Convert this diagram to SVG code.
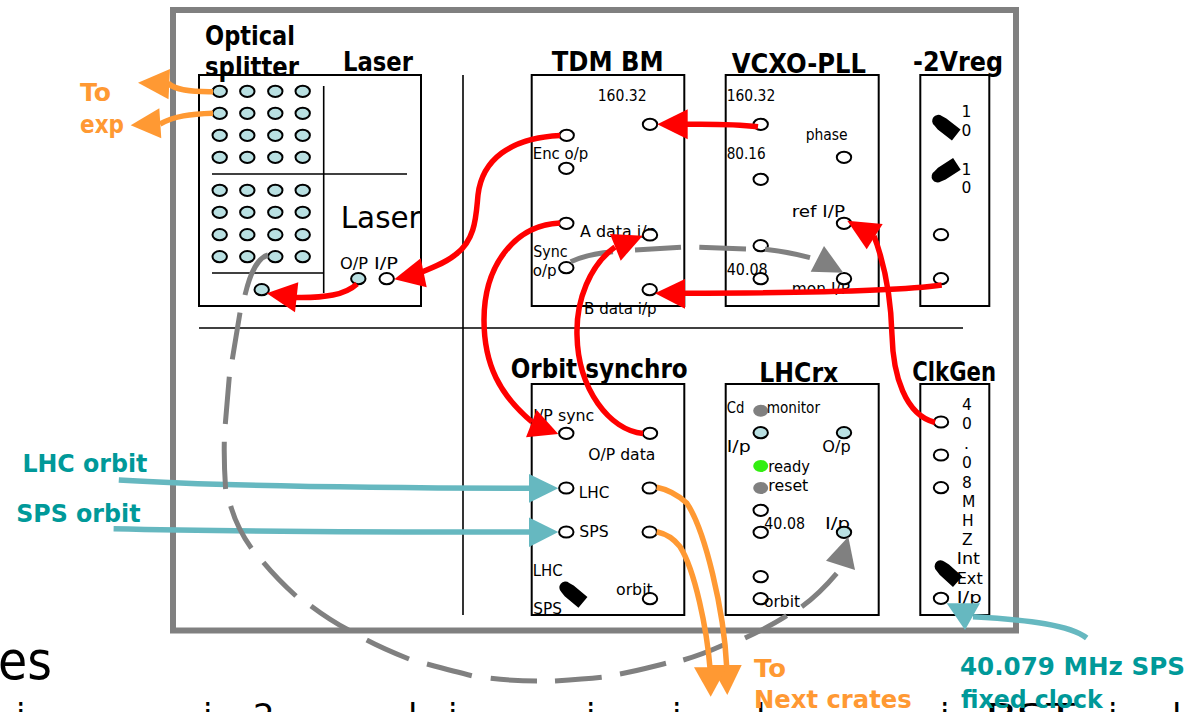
<svg xmlns="http://www.w3.org/2000/svg" width="1189" height="712" viewBox="0 0 1189 712">
<style>
text{font-family:"DejaVu Sans","Liberation Sans",sans-serif;fill:#000}
.t{font-size:26px;font-weight:700}
.l{font-size:15.5px}
.o{font-size:25px;font-weight:700;fill:#ff9933}
.c{font-size:25px;font-weight:700;fill:#009999}
.box{fill:none;stroke:#000;stroke-width:2}
.thin{fill:none;stroke:#000;stroke-width:1.6}
.p{fill:#fff;stroke:#000;stroke-width:2}
.q{fill:#b9e0e2;stroke:#000;stroke-width:2}
.gd{fill:#808080}
.gr{fill:#33ee11}
.sw{fill:#000}
.r,.a,.b,.g{fill:none;stroke-linecap:butt}
.r{stroke:#ff0000;stroke-width:5.5}
.a{stroke:#ff9933;stroke-width:5.5}
.b{stroke:#66b8c0;stroke-width:5.5}
.g{stroke:#808080;stroke-width:5}
.rh{fill:#ff0000}.ah{fill:#ff9933}.bh{fill:#66b8c0}.gh{fill:#808080}
</style>
<defs>
<g id="switch"><path d="M-10,-6 A6,6 0 0 0 -10,6 L-5,7 L13,7 L13,-7 L-5,-7 Z" class="sw"/></g>
<ellipse id="pw" rx="7.2" ry="5.6" class="p"/>
<ellipse id="pq" rx="7.2" ry="5.6" class="q"/>
</defs>
<rect id="frame" x="173" y="10" width="843" height="620.5" fill="none" stroke="#808080" stroke-width="6"/>

<g id="page-text">
<text x="-2" y="679" font-size="53" textLength="54" lengthAdjust="spacingAndGlyphs">es</text>
<text x="16" y="728" font-size="34">i</text>
<text x="203" y="728" font-size="34">i</text>
<text x="253" y="728" font-size="34">2</text>
<text x="408" y="728" font-size="34">l</text>
<text x="448" y="728" font-size="34">i</text>
<text x="586" y="728" font-size="34">i</text>
<text x="672" y="728" font-size="34">i</text>
<text x="756" y="728" font-size="34">l</text>
<text x="940" y="728" font-size="34">i</text>
<text x="985" y="728" font-size="34" textLength="90" lengthAdjust="spacingAndGlyphs">BST</text>
<text x="1108" y="728" font-size="34">i</text>
<text x="1172" y="728" font-size="34">l</text>
</g>

<g id="dividers">
<line x1="463" y1="75" x2="463" y2="615" class="thin"/>
<line x1="199" y1="328" x2="963" y2="328" class="thin"/>
</g>

<g id="splitter-laser">
<rect x="199" y="75" width="222" height="231" class="box"/>
<line x1="323.7" y1="86" x2="323.7" y2="293" class="thin"/>
<line x1="212" y1="174" x2="407" y2="174" class="thin"/>
<line x1="212" y1="273" x2="324" y2="273" class="thin"/>
<text class="t" x="205" y="45" textLength="90" lengthAdjust="spacingAndGlyphs">Optical</text>
<text class="t" x="205" y="76" textLength="94" lengthAdjust="spacingAndGlyphs">splitter</text>
<text class="t" x="343" y="71" textLength="70" lengthAdjust="spacingAndGlyphs">Laser</text>
<text x="340.7" y="228" font-size="30" textLength="80" lengthAdjust="spacingAndGlyphs">Laser</text>
<text class="l" x="340" y="269" textLength="28" lengthAdjust="spacingAndGlyphs">O/P</text>
<text class="l" x="374" y="269" textLength="24" lengthAdjust="spacingAndGlyphs">I/P</text>
<use href="#pq" x="219.7" y="91.3"/><use href="#pq" x="247.3" y="91.3"/><use href="#pq" x="275.3" y="91.3"/><use href="#pq" x="302.7" y="91.3"/>
<use href="#pq" x="219.7" y="113.3"/><use href="#pq" x="247.3" y="113.3"/><use href="#pq" x="275.3" y="113.3"/><use href="#pq" x="302.7" y="113.3"/>
<use href="#pq" x="219.7" y="135.3"/><use href="#pq" x="247.3" y="135.3"/><use href="#pq" x="275.3" y="135.3"/><use href="#pq" x="302.7" y="135.3"/>
<use href="#pq" x="219.7" y="157.3"/><use href="#pq" x="247.3" y="157.3"/><use href="#pq" x="275.3" y="157.3"/><use href="#pq" x="302.7" y="157.3"/>
<use href="#pq" x="219.7" y="190.3"/><use href="#pq" x="247.3" y="190.3"/><use href="#pq" x="275.3" y="190.3"/><use href="#pq" x="302.7" y="190.3"/>
<use href="#pq" x="219.7" y="212.3"/><use href="#pq" x="247.3" y="212.3"/><use href="#pq" x="275.3" y="212.3"/><use href="#pq" x="302.7" y="212.3"/>
<use href="#pq" x="219.7" y="234.7"/><use href="#pq" x="247.3" y="234.7"/><use href="#pq" x="275.3" y="234.7"/><use href="#pq" x="302.7" y="234.7"/>
<use href="#pq" x="219.7" y="256.7"/><use href="#pq" x="247.3" y="256.7"/><use href="#pq" x="275.3" y="256.7"/><use href="#pq" x="302.7" y="256.7"/>
<use href="#pq" x="261.7" y="289.7"/><use href="#pq" x="358.3" y="278.7"/><use href="#pw" x="386.7" y="278.7"/>
</g>

<g id="tdm-bm">
<rect x="531.7" y="75" width="152.6" height="231" class="box"/>
<text class="t" x="551.7" y="70.7" textLength="112" lengthAdjust="spacingAndGlyphs">TDM BM</text>
<text class="l" x="597.7" y="100.7" textLength="49" lengthAdjust="spacingAndGlyphs">160.32</text>
<text class="l" x="532.7" y="159.3" textLength="55.6" lengthAdjust="spacingAndGlyphs">Enc o/p</text>
<text class="l" x="580" y="236.7" textLength="76.7" lengthAdjust="spacingAndGlyphs">A data i/p</text>
<text class="l" x="533.3" y="256.7" textLength="34.4" lengthAdjust="spacingAndGlyphs">Sync</text>
<text class="l" x="532.7" y="275.7" textLength="24" lengthAdjust="spacingAndGlyphs">o/p</text>
<text class="l" x="584" y="314" textLength="72.7" lengthAdjust="spacingAndGlyphs">B data i/p</text>
<use href="#pw" x="650" y="124.3"/><use href="#pw" x="566.7" y="135.3"/><use href="#pw" x="566.3" y="168.3"/><use href="#pw" x="566.3" y="223.3"/><use href="#pw" x="650" y="235"/><use href="#pw" x="566.3" y="267.7"/><use href="#pw" x="649.7" y="289.7"/>
</g>

<g id="vcxo-pll">
<rect x="725.7" y="75" width="153" height="231" class="box"/>
<text class="t" x="731.7" y="72.7" textLength="134.3" lengthAdjust="spacingAndGlyphs">VCXO-PLL</text>
<text class="l" x="726.7" y="100.7" textLength="48.6" lengthAdjust="spacingAndGlyphs">160.32</text>
<text class="l" x="805.7" y="140" textLength="42" lengthAdjust="spacingAndGlyphs">phase</text>
<text class="l" x="726.7" y="159.3" textLength="39" lengthAdjust="spacingAndGlyphs">80.16</text>
<text class="l" x="791.7" y="216.7" textLength="53.3" lengthAdjust="spacingAndGlyphs">ref I/P</text>
<text class="l" x="726.7" y="275" textLength="41" lengthAdjust="spacingAndGlyphs">40.08</text>
<text class="l" x="791.7" y="293.5" textLength="58.3" lengthAdjust="spacingAndGlyphs">mon I/P</text>
<use href="#pw" x="760.7" y="124.3"/><use href="#pw" x="844" y="157.3"/><use href="#pw" x="760.7" y="179.3"/><use href="#pw" x="844" y="223.3"/><use href="#pw" x="760.7" y="245.7"/><use href="#pw" x="760.7" y="278.7"/><use href="#pw" x="844" y="278.7"/>
</g>

<g id="vreg">
<rect x="920.3" y="75" width="69" height="231" class="box"/>
<text class="t" x="913" y="70.7" textLength="90" lengthAdjust="spacingAndGlyphs">-2Vreg</text>
<text class="l" x="961.5" y="116.7">1</text><text class="l" x="961.5" y="136">0</text>
<text class="l" x="961.5" y="175">1</text><text class="l" x="961.5" y="193.3">0</text>
<use href="#switch" transform="translate(946,127) rotate(38)"/>
<use href="#switch" transform="translate(946,171) rotate(-33)"/>
<use href="#pw" x="941" y="234.7"/><use href="#pw" x="941" y="278.7"/>
</g>

<g id="orbit-synchro">
<rect x="531.7" y="384" width="152.6" height="231" class="box"/>
<text class="t" x="510.7" y="378.3" textLength="177" lengthAdjust="spacingAndGlyphs">Orbit synchro</text>
<text class="l" x="533.3" y="420.7" textLength="61" lengthAdjust="spacingAndGlyphs">I/P sync</text>
<text class="l" x="588.3" y="460" textLength="67" lengthAdjust="spacingAndGlyphs">O/P data</text>
<text class="l" x="578.7" y="497.7" textLength="30.6" lengthAdjust="spacingAndGlyphs">LHC</text>
<text class="l" x="579.3" y="537.3" textLength="29.4" lengthAdjust="spacingAndGlyphs">SPS</text>
<text class="l" x="532.7" y="576" textLength="30" lengthAdjust="spacingAndGlyphs">LHC</text>
<text class="l" x="533.3" y="614" textLength="28.7" lengthAdjust="spacingAndGlyphs">SPS</text>
<text class="l" x="616" y="595" textLength="36.7" lengthAdjust="spacingAndGlyphs">orbit</text>
<use href="#switch" transform="translate(573,594) rotate(40)"/>
<use href="#pw" x="566.3" y="433.3"/><use href="#pw" x="650" y="433.3"/><use href="#pw" x="566.3" y="488"/><use href="#pw" x="649.7" y="488"/><use href="#pw" x="566.3" y="532"/><use href="#pw" x="649.7" y="532"/><use href="#pw" x="650" y="598.7"/>
</g>

<g id="lhcrx">
<rect x="725.7" y="384" width="153" height="231" class="box"/>
<text class="t" x="759.3" y="381.7" textLength="79" lengthAdjust="spacingAndGlyphs">LHCrx</text>
<ellipse cx="760.7" cy="410.7" rx="7.5" ry="6" class="gd"/>
<text class="l" x="726.7" y="412.7" textLength="17.6" lengthAdjust="spacingAndGlyphs">Cd</text>
<text class="l" x="766.7" y="412.7" textLength="53.3" lengthAdjust="spacingAndGlyphs">monitor</text>
<text class="l" x="726.7" y="451.7" textLength="24" lengthAdjust="spacingAndGlyphs">I/p</text>
<text class="l" x="822.3" y="451.7" textLength="28.4" lengthAdjust="spacingAndGlyphs">O/p</text>
<text class="l" x="768.3" y="471.7" textLength="41.7" lengthAdjust="spacingAndGlyphs">ready</text>
<text class="l" x="768.3" y="490.7" textLength="40" lengthAdjust="spacingAndGlyphs">reset</text>
<use href="#pq" x="760.7" y="432.7"/><use href="#pq" x="844" y="432.7"/>
<ellipse cx="760.7" cy="466" rx="7.5" ry="6" class="gr"/>
<ellipse cx="760.7" cy="488" rx="7.5" ry="6" class="gd"/>
<use href="#pw" x="760.7" y="510.3"/><use href="#pw" x="760.7" y="532.3"/>
<text class="l" x="764.3" y="529" textLength="40.7" lengthAdjust="spacingAndGlyphs">40.08</text>
<text class="l" x="825" y="529" textLength="25" lengthAdjust="spacingAndGlyphs">I/p</text>
<use href="#pq" x="844" y="532.3"/>
<use href="#pw" x="760.7" y="576.7"/><use href="#pw" x="760.7" y="598.7"/>
<text class="l" x="764" y="606.7" textLength="36" lengthAdjust="spacingAndGlyphs">orbit</text>
</g>

<g id="clkgen">
<rect x="920.3" y="384" width="69" height="231" class="box"/>
<text class="t" x="912.3" y="381" textLength="83.7" lengthAdjust="spacingAndGlyphs">ClkGen</text>
<text class="l" x="962" y="410">4</text><text class="l" x="962" y="429">0</text><text class="l" x="964" y="449">.</text><text class="l" x="962" y="467.7">0</text><text class="l" x="962" y="488">8</text><text class="l" x="962" y="507.3">M</text><text class="l" x="962" y="526">H</text><text class="l" x="962" y="545">Z</text>
<use href="#switch" transform="translate(948,573) rotate(42)"/>
<text class="l" x="956.7" y="564" textLength="23.3" lengthAdjust="spacingAndGlyphs">Int</text>
<text class="l" x="956.7" y="584" textLength="26" lengthAdjust="spacingAndGlyphs">Ext</text>
<text class="l" x="956.7" y="603.3" textLength="25" lengthAdjust="spacingAndGlyphs">I/p</text>
<use href="#pw" x="941" y="422"/><use href="#pw" x="941" y="455"/><use href="#pw" x="941" y="487.7"/><use href="#pw" x="941" y="598.3"/>
</g>

<g id="connectors">
<path class="b" d="M118.8,480 C200,485 350,488 530,488.3"/>
<polygon class="bh" points="529,474 529,502.7 558.3,488.3"/>
<path class="b" d="M113.6,528.7 C250,532 400,532 530,532"/>
<polygon class="bh" points="529,517.5 529,547 558.3,532"/>
<path class="b" d="M1086.7,638 C1070,625 1030,620 973,616.7"/>
<polygon class="bh" points="946.7,603.3 980,603.3 965,630"/>

<path class="g" d="M268,255 C258,258 251,270 245,295 M240,312.7 L232.3,359.3 M229.3,376.7 L225.3,424 M224.3,441.7 C224,458 224.5,473 225.6,489 M230.7,506 C235,521 242,535 251.4,548.3 M263.4,562.3 C274,575 284,585 296,596 M311,606 C323,615 335,623 348.5,630 M366.7,640 C380,647 394,653 409,659 M427,664 C442,668 457,672 471.8,675.7 M490.7,678.3 C506,680 521,681 537,681 M555,681 C571,680 586,679 601.7,677.3 M620,674 C636,671 651,667 666,663.3 M683.3,660 C697,656 710,651 723.3,645 M745,638 C760,631 774,624 786.7,615.7 M801.7,606.7 C815,597 826,586 836.7,573.3"/>
<polygon class="gh" points="848.3,536.7 826,560.7 855,570"/>
<path class="g" d="M570.7,261.7 C583,256 598,253 613,251.7 M635,250 L681,247.3 M699.3,247.3 L746,249 M765,249.3 C781,251 796,254 810,257.7"/>
<polygon class="gh" points="824,246 810.7,271.7 843.3,272.7"/>

<path class="a" d="M213,91.7 C190,92 175,90 168,83"/>
<polygon class="ah" points="138,82.7 170,69 168.5,99.3"/>
<path class="a" d="M213,113.3 C190,114 175,116 160,124"/>
<polygon class="ah" points="130.7,125.3 159.3,108.3 161.3,138.3"/>
<path class="a" d="M656.7,487.3 C670,490 680,497 686.7,503 C705,530 724,610 726.7,667"/>
<polygon class="ah" points="710.7,665 741.7,665 727.3,695"/>
<path class="a" d="M656.7,531.7 C667,534 675,540 680,546.7 C695,570 707,630 710,668"/>
<polygon class="ah" points="694,667.3 726.7,667.3 710.7,696.7"/>

<path class="r" d="M560,135.5 C510,138 482,160 478,195 C476,215 476,240 455,255 C445,263 430,269 412,276"/>
<polygon class="rh" points="394.3,279.3 420.7,258.3 426.7,287.3"/>
<path class="r" d="M357,284 C345,295 325,298 296,297.5"/>
<polygon class="rh" points="266.7,293.3 298.3,282.3 295,312.3"/>
<path class="r" d="M758,126.7 C735,124 710,124 686,124.3"/>
<polygon class="rh" points="657.3,124.3 687.7,109.3 687.7,139.3"/>
<path class="r" d="M941.7,285 C900,291 800,293 684,293.3"/>
<polygon class="rh" points="655,293.3 685,279 685,308.7"/>
<path class="r" d="M935,422.5 C905,415 893,375 892,335 C891,300 885,265 874,236"/>
<polygon class="rh" points="847.3,220.7 882.7,224 866.7,249.3"/>
<path class="r" d="M560,223 C515,225 484,265 484,320 C484,365 500,395 532,422"/>
<polygon class="rh" points="558.3,434 536.7,410 526,437.3"/>
<path class="r" d="M643,433.5 C610,430 578,390 577,335 C576,300 590,265 615,247"/>
<polygon class="rh" points="642.7,235.7 610,234 620.7,260.7"/>
</g>

<g id="external-labels">
<text class="o" x="80" y="101" textLength="31" lengthAdjust="spacingAndGlyphs">To</text>
<text class="o" x="80" y="132.7" textLength="44" lengthAdjust="spacingAndGlyphs">exp</text>
<text class="c" x="22.4" y="472.3" textLength="125" lengthAdjust="spacingAndGlyphs">LHC orbit</text>
<text class="c" x="16.2" y="521.7" textLength="124.3" lengthAdjust="spacingAndGlyphs">SPS orbit</text>
<text class="o" x="754" y="676.7" textLength="32" lengthAdjust="spacingAndGlyphs">To</text>
<text class="o" x="754" y="708.3" textLength="157.7" lengthAdjust="spacingAndGlyphs">Next crates</text>
<text class="c" x="960" y="675" textLength="225" lengthAdjust="spacingAndGlyphs">40.079 MHz SPS</text>
<text class="c" x="961" y="708" textLength="141.7" lengthAdjust="spacingAndGlyphs">fixed clock</text>
</g>
</svg>
